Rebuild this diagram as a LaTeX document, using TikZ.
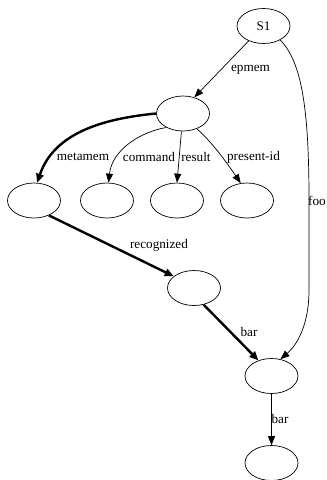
\documentclass[tikz,border=0pt]{standalone}
\usepackage{fontspec}
\setmainfont{Liberation Serif}
\usetikzlibrary{arrows.meta,shapes.geometric}
\begin{document}
\begin{tikzpicture}[x=1pt,y=-1pt,
  nd/.style={draw,ellipse,minimum width=53pt,minimum height=35pt,inner sep=0pt,line width=0.7pt},
  lbl/.style={font=\fontsize{13.2}{14}\selectfont,inner sep=0pt},
  edge/.style={line width=0.7pt,-{Triangle[length=9pt,width=7pt]}},
  thick edge/.style={line width=2.4pt,-{Triangle[length=9pt,width=7.5pt]}}]
\useasboundingbox (0,0) rectangle (327,480);
\node[nd,font=\fontsize{13.2}{14}\selectfont] (s1) at (263.5,26) {S1};
\node[nd] (n1) at (183,113.5) {};
\node[nd] (a) at (34,200.5) {};
\node[nd] (b) at (107,200.5) {};
\node[nd] (c) at (177,200.5) {};
\node[nd] (d) at (247,200.5) {};
\node[nd] (r) at (194,288) {};
\node[nd] (m) at (271.5,376) {};
\node[nd] (l) at (271.5,463) {};
% edges
\draw[edge] (s1.-135) -- (n1.55);
\draw[edge] (s1.-40) .. controls (302,62) and (309,110) .. (309,200)
  -- (309,290) .. controls (309,325) and (297,345) .. (m.62);
\draw[thick edge] (n1.west) .. controls (110,118) and (55,130) .. (a.80);
\draw[edge] (n1.-140) .. controls (140,132) and (112,150) .. (b.85);
\draw[edge] (n1.-95) -- (c.90);
\draw[edge] (n1.-48) .. controls (210,140) and (225,160) .. (d.110);
\draw[thick edge] (a.-45) -- (r.150);
\draw[thick edge] (r.-60) -- (m.130);
\draw[edge] (m.south) -- (l.north);
% labels
\node[lbl] (t1) at (250.5,70) {epmem};
\node[lbl] (t2) at (83,157) {metamem};
\node[lbl] (t3) at (149,157) {command};
\node[lbl] (t4) at (196,157) {result};
\node[lbl] (t5) at (253.5,157) {present-id};
\node[lbl] (t6) at (317,201) {foo};
\node[lbl] (t7) at (159,245) {recognized};
\node[lbl] (t8) at (249,332) {bar};
\node[lbl] (t9) at (280,419) {bar};
\end{tikzpicture}
\end{document}
